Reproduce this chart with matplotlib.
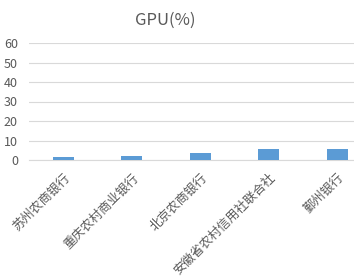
import matplotlib
matplotlib.use("Agg")
import matplotlib.pyplot as plt

plt.rcParams['font.family'] = ['Noto Sans CJK SC', 'DejaVu Sans']

# 数据
banks = ['苏州农商银行', '重庆农村商业银行', '北京农商银行', '安徽省农村信用社联合社', '鄞州银行']
gpu = [1.5, 2.2, 3.6, 5.6, 5.6]
yticks = [0, 10, 20, 30, 40, 50, 60]

fig = plt.figure(figsize=(3.54, 2.77), dpi=100)
ax = fig.add_axes([29 / 354, 117 / 277, 342.5 / 354, 117 / 277])

ax.bar(range(len(banks)), gpu, width=0.31, color='#5B9BD5', zorder=3)

ax.set_xlim(-0.5, len(banks) - 0.5)
ax.set_ylim(0, 60)
ax.set_yticks(yticks)
ax.yaxis.grid(True, color='#D9D9D9', linewidth=0.8, zorder=0)
for s in ['top', 'right', 'left']:
    ax.spines[s].set_visible(False)
ax.spines['bottom'].set_color('#D9D9D9')
ax.spines['bottom'].set_linewidth(0.8)

ax.tick_params(axis='y', length=0, labelsize=9, labelcolor='#595959', pad=8)
ax.tick_params(axis='x', length=0, labelsize=9, labelcolor='#595959', pad=8)
ax.set_xticks(range(len(banks)))
ax.set_xticklabels(banks, rotation=45, ha='right', rotation_mode='anchor')

fig.text(165 / 354, 1 - 20 / 277, 'GPU(%)', ha='center', va='center',
         fontsize=12, color='#595959')

fig.savefig('out.png', dpi=100)
